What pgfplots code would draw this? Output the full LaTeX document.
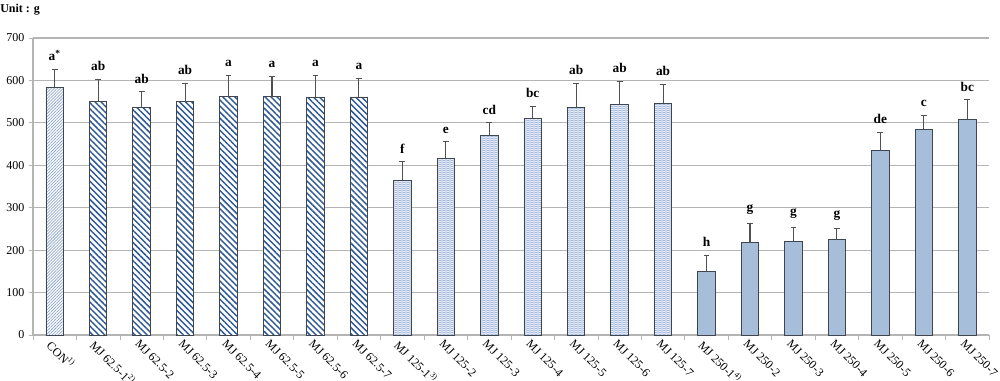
\documentclass[border=0pt]{standalone}
\usepackage{pgfplots}
\pgfplotsset{compat=1.18}
\usepackage{pgfplotstable}
\usepackage{fontspec}
\setmainfont{Liberation Serif}
\usetikzlibrary{patterns.meta}
\definecolor{edge}{HTML}{3F4650}
\definecolor{conline}{HTML}{8EA9CF}
\definecolor{sixline}{HTML}{2F5A94}
\definecolor{zigline}{HTML}{9AB4D6}
\definecolor{solidfill}{HTML}{A6BED9}
\definecolor{gridc}{HTML}{B4B4B4}
\definecolor{errc}{HTML}{505050}

\tikzdeclarepattern{
  name=zigzag,
  type=uncolored,
  bounding box={(0pt,-0.5pt) and (3pt,1.8pt)},
  tile size={(3pt,1.5pt)},
  code={
    \draw[line width=0.5pt] (0pt,0.1pt) -- (1.5pt,0.9pt) -- (3pt,0.1pt);
  }
}

\pgfplotstableread{
x y err
0 583 42
}\tcon
\pgfplotstableread{
x y err
1 551 51
2 537 36
3 550 42
4 563 49
5 562 47
6 560 52
7 561 44
}\tsix
\pgfplotstableread{
x y err
8 364 44
9 416 39
10 471 29
11 511 27
12 537 56
13 544 53
14 546 44
}\tone
\pgfplotstableread{
x y err
15 149 38
16 218 45
17 221 33
18 225 25
19 436 41
20 485 32
21 509 45
}\ttwo
\pgfplotstableread{
x top lab
0 625 {a\textsuperscript{*}}
1 602 ab
2 573 ab
3 592 ab
4 612 a
5 609 a
6 612 a
7 605 a
8 408 f
9 455 e
10 500 cd
11 538 bc
12 593 ab
13 597 ab
14 590 ab
15 187 h
16 263 g
17 254 g
18 250 g
19 477 de
20 517 c
21 554 bc
}\tlab

\begin{document}
\begin{tikzpicture}
\begin{axis}[
  at={(0,0)}, anchor=south west,
  scale only axis,
  width=717pt, height=222.75pt,
  xmin=-0.5, xmax=21.5,
  ymin=0, ymax=700,
  ytick={0,100,...,700},
  xtick={0,...,21},
  xticklabels={CON\textsuperscript{1)}, MJ 62.5-1\textsuperscript{2)}, MJ 62.5-2, MJ 62.5-3, MJ 62.5-4, MJ 62.5-5, MJ 62.5-6, MJ 62.5-7, MJ 125-1\textsuperscript{3)}, MJ 125-2, MJ 125-3, MJ 125-4, MJ 125-5, MJ 125-6, MJ 125-7, MJ 250-1\textsuperscript{4)}, MJ 250-2, MJ 250-3, MJ 250-4, MJ 250-5, MJ 250-6, MJ 250-7},
  minor xtick={-0.5,0.5,...,21.5},
  major x tick style={draw=none},
  minor tick length=4pt,
  major tick length=3pt,
  tick align=outside,
  tick style={draw=gridc, line width=0.6pt},
  axis x line*=bottom, axis y line*=left,
  axis line style={-, draw=gridc, line width=0.8pt},
  ymajorgrids,
  grid style={draw=gridc, line width=0.8pt},
  xticklabel style={rotate=-45, anchor=north west, font=\small, inner sep=1pt, xshift=-2pt, yshift=0.5pt},
  yticklabel style={font=\small},
  /pgf/number format/assume math mode=true,
  clip=false,
  bar width=13.1pt,
  error bars/y dir=plus,
  error bars/y explicit,
  error bars/error bar style={draw=errc, line width=0.8pt},
  error bars/error mark options={rotate=90, mark size=2.2pt, line width=0.8pt, draw=errc},
]
\addplot[ybar, bar shift=0pt, draw=edge, line width=0.7pt,
  preaction={fill=white},
  pattern={Lines[angle=45, distance=1.6pt, line width=0.55pt]}, pattern color=conline]
  table[x=x, y=y, y error=err]{\tcon};
\addplot[ybar, bar shift=0pt, draw=edge, line width=0.7pt,
  preaction={fill=white},
  pattern={Lines[angle=-45, distance=3.2pt, line width=1.1pt]}, pattern color=sixline]
  table[x=x, y=y, y error=err]{\tsix};
\addplot[ybar, bar shift=0pt, draw=edge, line width=0.7pt,
  preaction={fill=blue!5},
  pattern=zigzag, pattern color=zigline]
  table[x=x, y=y, y error=err]{\tone};
\addplot[ybar, bar shift=0pt, draw=edge, line width=0.7pt, fill=solidfill]
  table[x=x, y=y, y error=err]{\ttwo};
\addplot[draw=none, mark=none, nodes near coords, point meta=explicit symbolic,
  nodes near coords style={font=\bfseries, anchor=south, yshift=3pt}]
  table[x=x, y=top, meta=lab]{\tlab};
\end{axis}
\node[anchor=north west, font=\bfseries\small, inner sep=0pt] at (-24.75pt,248pt) {Unit : g};
\pgfresetboundingbox
\path[use as bounding box] (-24.75pt,-34.5pt) rectangle (725.25pt,251.25pt);
\end{tikzpicture}
\end{document}
